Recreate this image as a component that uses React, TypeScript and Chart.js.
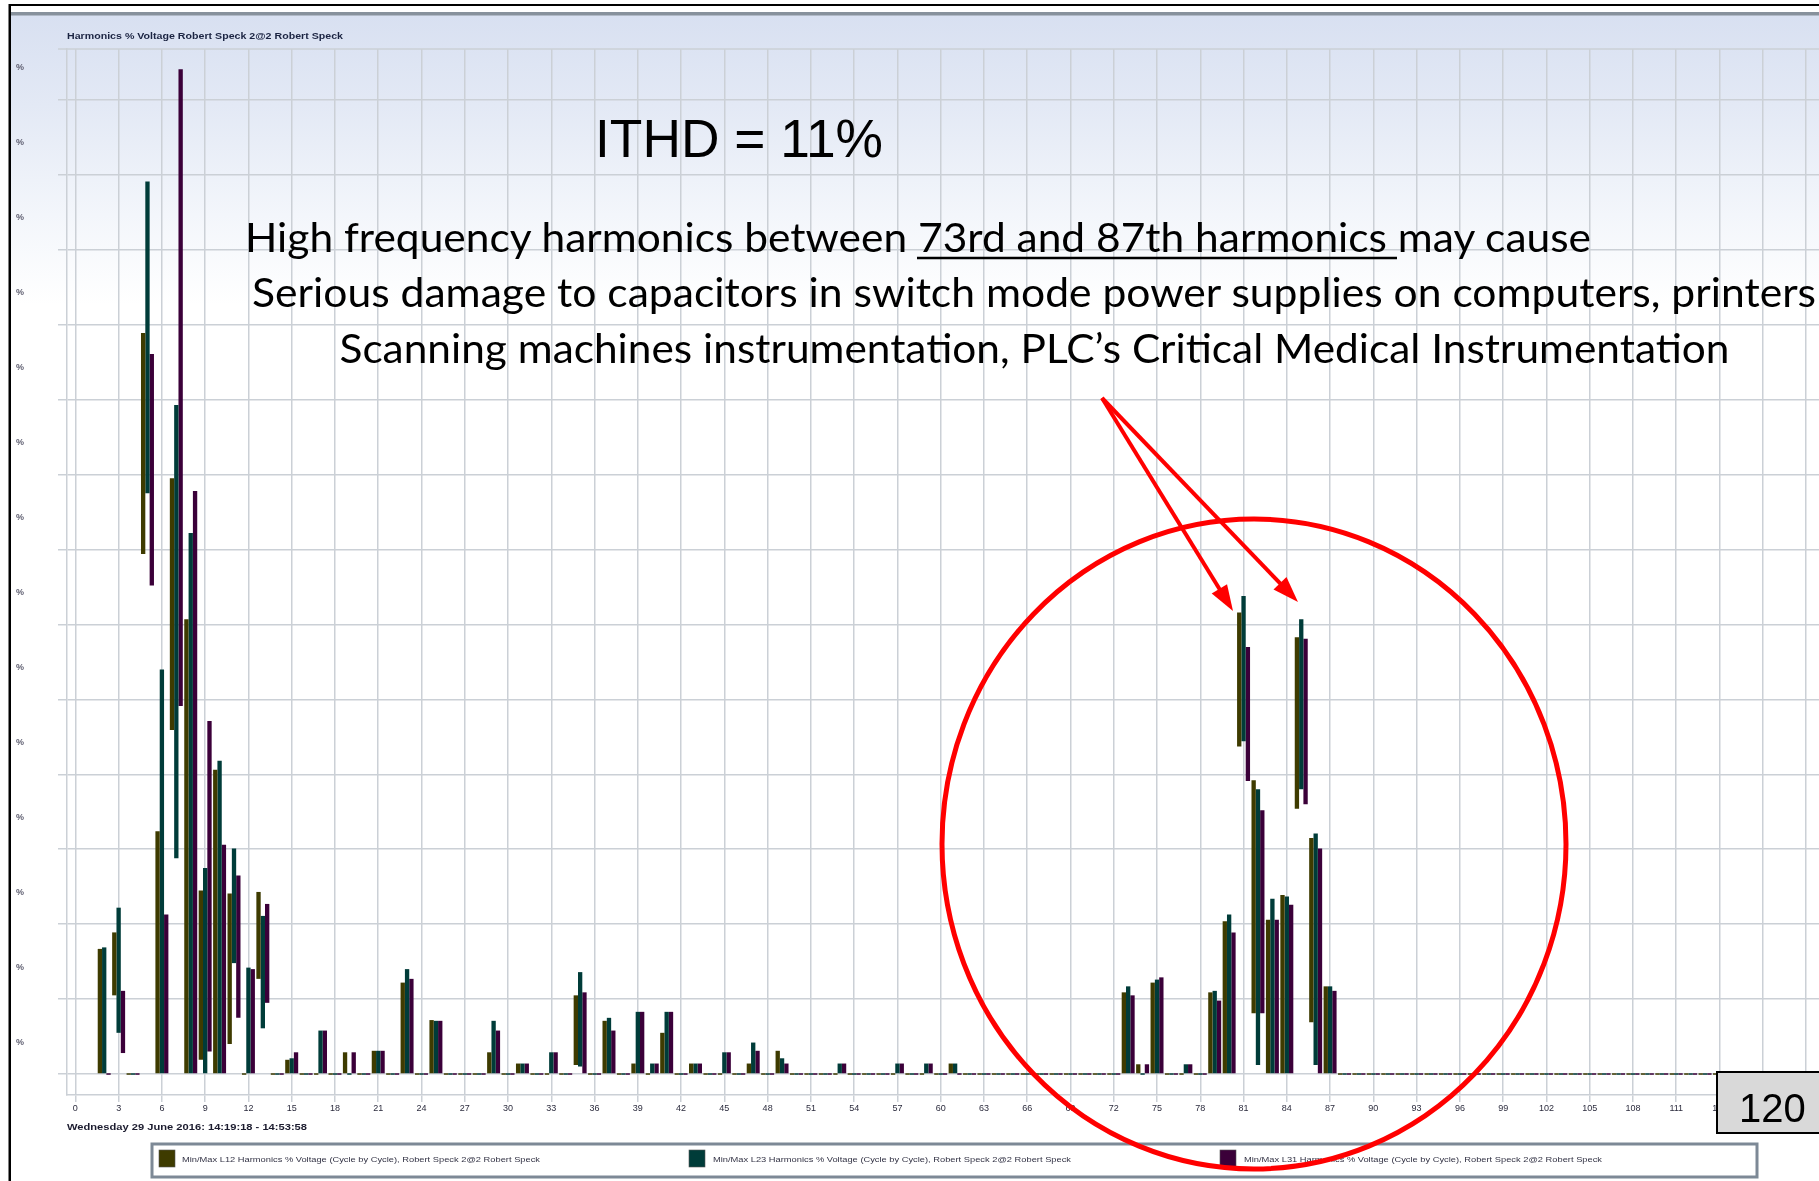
import React, { useEffect, useRef } from 'react';
import { Chart, registerables } from 'chart.js';

Chart.register(...registerables);

// ---------------- data ----------------
const HARMONICS = [
  2, 3, 4, 5, 6, 7, 8, 9, 10, 11,
  12, 13, 14, 15, 16, 17, 18, 19, 20, 21,
  22, 23, 24, 25, 26, 27, 28, 29, 30, 31,
  32, 33, 34, 35, 36, 37, 38, 39, 40, 41,
  42, 43, 44, 45, 46, 47, 48, 49, 50, 51,
  52, 53, 54, 55, 56, 57, 58, 59, 60, 61,
  62, 63, 64, 65, 66, 67, 68, 69, 70, 71,
  72, 73, 74, 75, 76, 77, 78, 79, 80, 81,
  82, 83, 84, 85, 86, 87, 88, 89, 90, 91,
  92, 93, 94, 95, 96, 97, 98, 99, 100, 101,
  102, 103, 104, 105, 106, 107, 108, 109, 110, 111,
  112, 113, 114, 115, 116, 117, 118, 119, 120,
];

const L12_MIN = [
  0, 1.05, 0, 6.94, 0, 4.59, 0, 0.19, 0, 0.40,
  0, 1.27, 0, 0, 0, 0, 0, 0, 0, 0,
  0, 0, 0, 0, 0, 0, 0, 0, 0, 0,
  0, 0, 0, 0.12, 0, 0, 0, 0, 0, 0,
  0, 0, 0, 0, 0, 0, 0, 0, 0, 0,
  0, 0, 0, 0, 0, 0, 0, 0, 0, 0,
  0, 0, 0, 0, 0, 0, 0, 0, 0, 0,
  0, 0, 0, 0, 0, 0, 0, 0, 0, 4.37,
  0.81, 0, 0, 3.54, 0.69, 0, 0, 0, 0, 0,
  0, 0, 0, 0, 0, 0, 0, 0, 0, 0,
  0, 0, 0, 0, 0, 0, 0, 0, 0, 0,
  0, 0, 0, 0, 0, 0, 0, 0, 0,
];
const L12_MAX = [
  1.67, 1.89, 0, 9.89, 3.24, 7.95, 6.07, 2.45, 4.06, 2.41,
  0, 2.43, 0, 0.19, 0, 0, 0, 0.29, 0, 0.31,
  0, 1.22, 0, 0.72, 0, 0, 0, 0.29, 0, 0.14,
  0, 0, 0, 1.05, 0, 0.71, 0, 0.14, 0, 0.55,
  0, 0.14, 0, 0, 0, 0.14, 0, 0.31, 0, 0,
  0, 0, 0, 0, 0, 0, 0, 0, 0, 0.14,
  0, 0, 0, 0, 0, 0, 0, 0, 0, 0,
  0, 1.09, 0.13, 1.22, 0, 0, 0, 1.09, 2.04, 6.16,
  3.92, 2.06, 2.39, 5.83, 3.15, 1.17, 0, 0, 0, 0,
  0, 0, 0, 0, 0, 0, 0, 0, 0, 0,
  0, 0, 0, 0, 0, 0, 0, 0, 0, 0,
  0, 0, 0, 0, 0, 0, 0, 0, 0,
];
const L23_MIN = [
  0, 0.55, 0, 7.75, 0, 2.88, 0, 0, 0, 1.48,
  0, 0.61, 0, 0, 0, 0, 0, 0, 0, 0,
  0, 0, 0, 0, 0, 0, 0, 0, 0, 0,
  0, 0, 0, 0.10, 0, 0, 0, 0, 0, 0,
  0, 0, 0, 0, 0, 0, 0, 0, 0, 0,
  0, 0, 0, 0, 0, 0, 0, 0, 0, 0,
  0, 0, 0, 0, 0, 0, 0, 0, 0, 0,
  0, 0, 0, 0, 0, 0, 0, 0, 0, 4.44,
  0.12, 0, 0, 3.80, 0.12, 0, 0, 0, 0, 0,
  0, 0, 0, 0, 0, 0, 0, 0, 0, 0,
  0, 0, 0, 0, 0, 0, 0, 0, 0, 0,
  0, 0, 0, 0, 0, 0, 0, 0, 0,
];
const L23_MAX = [
  1.69, 2.22, 0, 11.91, 5.40, 8.93, 7.22, 2.75, 4.18, 3.01,
  1.42, 2.11, 0, 0.21, 0, 0.58, 0, 0, 0, 0.31,
  0, 1.40, 0, 0.71, 0, 0, 0, 0.71, 0, 0.14,
  0, 0.29, 0, 1.36, 0, 0.75, 0, 0.83, 0.14, 0.83,
  0, 0.14, 0, 0.29, 0, 0.42, 0, 0.21, 0, 0,
  0, 0.14, 0, 0, 0, 0.14, 0, 0.14, 0, 0.14,
  0, 0, 0, 0, 0, 0, 0, 0, 0, 0,
  0, 1.17, 0, 1.26, 0, 0.13, 0, 1.11, 2.13, 6.38,
  3.80, 2.34, 2.37, 6.07, 3.21, 1.17, 0, 0, 0, 0,
  0, 0, 0, 0, 0, 0, 0, 0, 0, 0,
  0, 0, 0, 0, 0, 0, 0, 0, 0, 0,
  0, 0, 0, 0, 0, 0, 0, 0, 0,
];
const L31_MIN = [
  0, 0.28, 0, 6.52, 0, 4.91, 0, 0.30, 0, 0.75,
  0, 0.95, 0, 0, 0, 0, 0, 0, 0, 0,
  0, 0, 0, 0, 0, 0, 0, 0, 0, 0,
  0, 0, 0, 0, 0, 0, 0, 0, 0, 0,
  0, 0, 0, 0, 0, 0, 0, 0, 0, 0,
  0, 0, 0, 0, 0, 0, 0, 0, 0, 0,
  0, 0, 0, 0, 0, 0, 0, 0, 0, 0,
  0, 0, 0, 0, 0, 0, 0, 0, 0, 3.91,
  0.81, 0, 0, 3.60, 0, 0, 0, 0, 0, 0,
  0, 0, 0, 0, 0, 0, 0, 0, 0, 0,
  0, 0, 0, 0, 0, 0, 0, 0, 0, 0,
  0, 0, 0, 0, 0, 0, 0, 0, 0,
];
const L31_MAX = [
  0, 1.11, 0, 9.61, 2.13, 13.41, 7.78, 4.71, 3.06, 2.65,
  1.40, 2.27, 0, 0.29, 0, 0.58, 0, 0.29, 0, 0.31,
  0, 1.27, 0, 0.71, 0, 0, 0, 0.58, 0, 0.14,
  0, 0.29, 0, 1.09, 0, 0.58, 0, 0.83, 0.14, 0.83,
  0, 0.14, 0, 0.29, 0, 0.31, 0, 0.14, 0, 0,
  0, 0.14, 0, 0, 0, 0.14, 0, 0.14, 0, 0,
  0, 0, 0, 0, 0, 0, 0, 0, 0, 0,
  0, 1.05, 0.13, 1.29, 0, 0.13, 0, 0.98, 1.89, 5.70,
  3.52, 2.06, 2.26, 5.81, 3.01, 1.11, 0, 0, 0, 0,
  0, 0, 0, 0, 0, 0, 0, 0, 0, 0,
  0, 0, 0, 0, 0, 0, 0, 0, 0, 0,
  0, 0, 0, 0, 0, 0, 0, 0, 0,
];

const SERIES_LABELS = [
  'Min/Max L12 Harmonics % Voltage (Cycle by Cycle), Robert Speck 2@2 Robert Speck',
  'Min/Max L23 Harmonics % Voltage (Cycle by Cycle), Robert Speck 2@2 Robert Speck',
  'Min/Max L31 Harmonics % Voltage (Cycle by Cycle), Robert Speck 2@2 Robert Speck',
];
const Y_TICK_LABEL = '%';
const X_TICK_STEP = 3;
const Y_TICK_STEP = 1;

const CHART_TITLE = 'Harmonics % Voltage Robert Speck 2@2 Robert Speck';
const DATE_TEXT = 'Wednesday 29 June 2016: 14:19:18 - 14:53:58';
const ITHD_TEXT = 'ITHD = 11%';
const NOTE_LINE_1 = 'High frequency harmonics between 73rd and 87th harmonics may cause';
const NOTE_LINE_2 = 'Serious damage to capacitors in switch mode power supplies on computers, printers';
const NOTE_LINE_3 = 'Scanning machines instrumentation, PLC\u2019s Critical Medical Instrumentation';
const PAGE_NUMBER = '120';

// ---------------- styles ----------------
const W = 1819;
const H = 1181;
const SERIES_COLORS = ['#3e3b00', '#003c39', '#3b0039'];
const GRID = '#cbd0d6';
const SANS = "'Liberation Sans', Arial, sans-serif";
const NOTE_FONT = "Lato, 'Open Sans', sans-serif";

const topBorderPlugin = {
  id: 'topBorder',
  beforeDatasetsDraw(chart: any) {
    const { ctx, chartArea } = chart;
    ctx.save();
    ctx.strokeStyle = GRID;
    ctx.lineWidth = 1.5;
    ctx.beginPath();
    ctx.moveTo(chartArea.left - 9, chartArea.top);
    ctx.lineTo(chartArea.right, chartArea.top);
    ctx.stroke();
    ctx.restore();
  },
};

function arrowHead(x0: number, y0: number, x1: number, y1: number, len: number, half: number) {
  const dx = x1 - x0;
  const dy = y1 - y0;
  const d = Math.sqrt(dx * dx + dy * dy);
  const ux = dx / d;
  const uy = dy / d;
  const bx = x1 - ux * len;
  const by = y1 - uy * len;
  const px = -uy * half;
  const py = ux * half;
  return {
    shaftEnd: [bx + ux * 2, by + uy * 2],
    points: `${x1},${y1} ${bx + px},${by + py} ${bx - px},${by - py}`,
  };
}

export default function App() {
  const canvasRef = useRef<HTMLCanvasElement>(null);

  useEffect(() => {
    const canvas = canvasRef.current;
    if (!canvas) return;
    Chart.defaults.font.family = SANS;
    const series = [
      [L12_MIN, L12_MAX],
      [L23_MIN, L23_MAX],
      [L31_MIN, L31_MAX],
    ];
    const datasets = series.map(([mn, mx], s) => ({
      label: SERIES_LABELS[s],
      data: HARMONICS.map((h, i) => ({ x: h, y: [mn[i], mx[i]] })),
      backgroundColor: SERIES_COLORS[s],
      borderWidth: 0,
      minBarLength: 1.5,
      categoryPercentage: 0.9,
      barPercentage: 1.0,
    }));

    const chart = new Chart(canvas, {
      type: 'bar',
      data: { datasets } as any,
      options: {
        animation: false,
        responsive: false,
        devicePixelRatio: 1,
        events: [],
        layout: { padding: { left: 16, top: 49, right: 0, bottom: 66 } },
        plugins: {
          legend: { display: false },
          title: { display: false },
          tooltip: { enabled: false },
        },
        scales: {
          x: {
            type: 'linear',
            min: -0.58,
            max: 120.9,
            offset: false,
            grid: { offset: false, color: GRID, lineWidth: 1.5, tickLength: 7, drawTicks: true },
            border: { display: true, color: GRID, width: 1.5 },
            ticks: {
              stepSize: X_TICK_STEP,
              includeBounds: false,
              autoSkip: false,
              maxRotation: 0,
              minRotation: 0,
              padding: 1,
              color: '#2c2c3e',
              font: { size: 9, family: SANS },
              callback: (v: any) => String(v),
            },
            afterFit: (s: any) => {
              s.height = 20;
            },
          },
          y: {
            type: 'linear',
            min: -0.28,
            max: 13.68,
            grid: { color: GRID, lineWidth: 1.5, tickLength: 9, drawTicks: true },
            border: { display: true, color: GRID, width: 1.5 },
            ticks: {
              stepSize: Y_TICK_STEP,
              includeBounds: false,
              crossAlign: 'far',
              labelOffset: -32,
              padding: 0,
              color: '#5e5e70',
              font: { size: 9, weight: 'bold', family: SANS },
              callback: () => Y_TICK_LABEL,
            },
            afterFit: (s: any) => {
              s.width = 51;
            },
          },
        },
      } as any,
      plugins: [topBorderPlugin],
    });
    return () => chart.destroy();
  }, []);

  const start = [1102, 398];
  const a1 = arrowHead(start[0], start[1], 1233, 611, 26, 9);
  const a2 = arrowHead(start[0], start[1], 1298, 602, 26, 9);

  const legendSquares = [159, 689, 1220];
  const legendTexts = [182, 713, 1244];

  return (
    <div style={{ position: 'absolute', left: 0, top: 0, width: W, height: H, overflow: 'hidden', background: '#ffffff' }}>
      <div
        style={{
          position: 'absolute',
          left: 11,
          top: 15,
          width: W - 11,
          height: H - 15,
          background: 'linear-gradient(to bottom, #d8e0f1 0px, #e3e9f5 90px, #f3f6fb 200px, #ffffff 290px)',
        }}
      />
      <canvas
        ref={canvasRef}
        width={W}
        height={H}
        style={{ position: 'absolute', left: 0, top: 0, width: W, height: H, display: 'block' }}
      />
      <svg width={W} height={H} style={{ position: 'absolute', left: 0, top: 0, pointerEvents: 'none' }}>
        {/* frame */}
        <rect x={9} y={4} width={W} height={2} fill="#000" />
        <rect x={11} y={12} width={W} height={3.5} fill="#87919c" />
        <rect x={8.5} y={4} width={2.5} height={H} fill="#000" />

        {/* chart title */}
        <text x={67} y={39} fontFamily={SANS} fontWeight="bold" fontSize={9.5} fill="#1b2442"
          textLength={276} lengthAdjust="spacingAndGlyphs">{CHART_TITLE}</text>

        {/* annotation */}
        <text x={595} y={157} fontFamily={SANS} fontSize={54} fill="#000"
          textLength={288} lengthAdjust="spacingAndGlyphs">{ITHD_TEXT}</text>
        <text x={245} y={252} fontFamily={NOTE_FONT} fontSize={40} fill="#000"
          textLength={1346} lengthAdjust="spacingAndGlyphs">{NOTE_LINE_1}</text>
        <line x1={917} y1={258} x2={1397} y2={258} stroke="#000" strokeWidth={2.5} />
        <text x={252} y={306.5} fontFamily={NOTE_FONT} fontSize={40} fill="#000"
          textLength={1564} lengthAdjust="spacingAndGlyphs">{NOTE_LINE_2}</text>
        <text x={339.5} y={362.5} fontFamily={NOTE_FONT} fontSize={40} fill="#000"
          textLength={1390} lengthAdjust="spacingAndGlyphs">{NOTE_LINE_3}</text>

        {/* date */}
        <text x={67} y={1129.5} fontFamily={SANS} fontWeight="bold" fontSize={9.5} fill="#1b1b2e"
          textLength={240} lengthAdjust="spacingAndGlyphs">{DATE_TEXT}</text>

        {/* legend */}
        <rect x={152} y={1144} width={1605} height={33} fill="#ffffff" stroke="#7d8996" strokeWidth={3} />
        {SERIES_LABELS.map((lab, i) => (
          <g key={lab}>
            <rect x={legendSquares[i]} y={1150} width={16} height={17} fill={SERIES_COLORS[i]} stroke="#555" strokeWidth={0.6} />
            <text x={legendTexts[i]} y={1161.5} fontFamily={SANS} fontSize={8} fill="#333345"
              textLength={358} lengthAdjust="spacingAndGlyphs">{lab}</text>
          </g>
        ))}

        {/* page number box */}
        <rect x={1717} y={1072} width={120} height={61} fill="#d9d9d9" stroke="#000" strokeWidth={2} />
        <text x={1739} y={1122} fontFamily={SANS} fontSize={40} fill="#000">{PAGE_NUMBER}</text>

        {/* red circle and arrows */}
        <ellipse cx={1254} cy={844} rx={312} ry={325} fill="none" stroke="#ff0000" strokeWidth={5} />
        <line x1={start[0]} y1={start[1]} x2={a1.shaftEnd[0]} y2={a1.shaftEnd[1]} stroke="#ff0000" strokeWidth={4} />
        <polygon points={a1.points} fill="#ff0000" />
        <line x1={start[0]} y1={start[1]} x2={a2.shaftEnd[0]} y2={a2.shaftEnd[1]} stroke="#ff0000" strokeWidth={4} />
        <polygon points={a2.points} fill="#ff0000" />
      </svg>
    </div>
  );
}
